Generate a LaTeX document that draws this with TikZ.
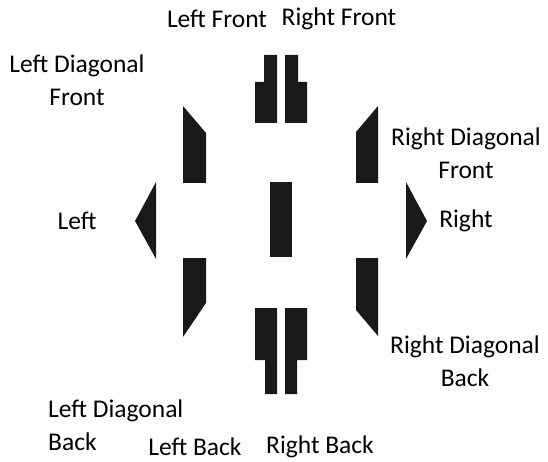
\documentclass[tikz,border=0pt]{standalone}
\usepackage{fontspec}
\setmainfont{Carlito}
\usetikzlibrary{positioning}

\tikzset{
  seat/.style={fill=black!90},
  lbl/.style={font=\fontsize{25.5}{33}\selectfont, align=center, inner sep=0pt},
}

\begin{document}
\begin{tikzpicture}[x=1pt, y=-1pt]
    \useasboundingbox (0,0) rectangle (548,462);

    % front
    \fill[seat] (255,82) -- (264,82) -- (264,55) -- (277,55) -- (277,123) -- (255,123) -- cycle;
    \fill[seat] (307,82) -- (298,82) -- (298,55) -- (285,55) -- (285,123) -- (307,123) -- cycle;

    % diagonal front
    \fill[seat] (183,106) -- (206,133) -- (206,183) -- (183,183) -- cycle;
    \fill[seat] (378,106) -- (356,132) -- (356,183) -- (378,183) -- cycle;

    % sides and centre
    \fill[seat] (156,182) -- (156,259) -- (135,221) -- cycle;
    \fill[seat] (406,182) -- (406,259) -- (427,221) -- cycle;
    \fill[seat] (270,182) rectangle (292,257);

    % diagonal back
    \fill[seat] (183,258) -- (206,258) -- (206,303) -- (183,337) -- cycle;
    \fill[seat] (356,258) -- (378,258) -- (378,336) -- (356,310) -- cycle;

    % back
    \fill[seat] (255,308) -- (277,308) -- (277,394) -- (265,394) -- (265,360) -- (255,360) -- cycle;
    \fill[seat] (307,308) -- (285,308) -- (285,394) -- (297,394) -- (297,360) -- (307,360) -- cycle;

    % labels
    \node[lbl] (lf) at (217,19) {Left Front};
    \node[lbl] (rf) at (339,19) {Right Front};
    \node[lbl] (ldf) at (77,80) {Left Diagonal\\Front};
    \node[lbl] (rdf) at (466,153) {Right Diagonal\\Front};
    \node[lbl] (l) at (77,221) {Left};
    \node[lbl] (r) at (466,221) {Right};
    \node[lbl] (rdb) at (465,361) {Right Diagonal\\Back};
    \node[lbl, align=left, anchor=west] (ldb) at (48,425) {Left Diagonal\\Back};
    \node[lbl] (lb) at (195,447) {Left Back};
    \node[lbl] (rb) at (320,447) {Right Back};
\end{tikzpicture}
\end{document}
